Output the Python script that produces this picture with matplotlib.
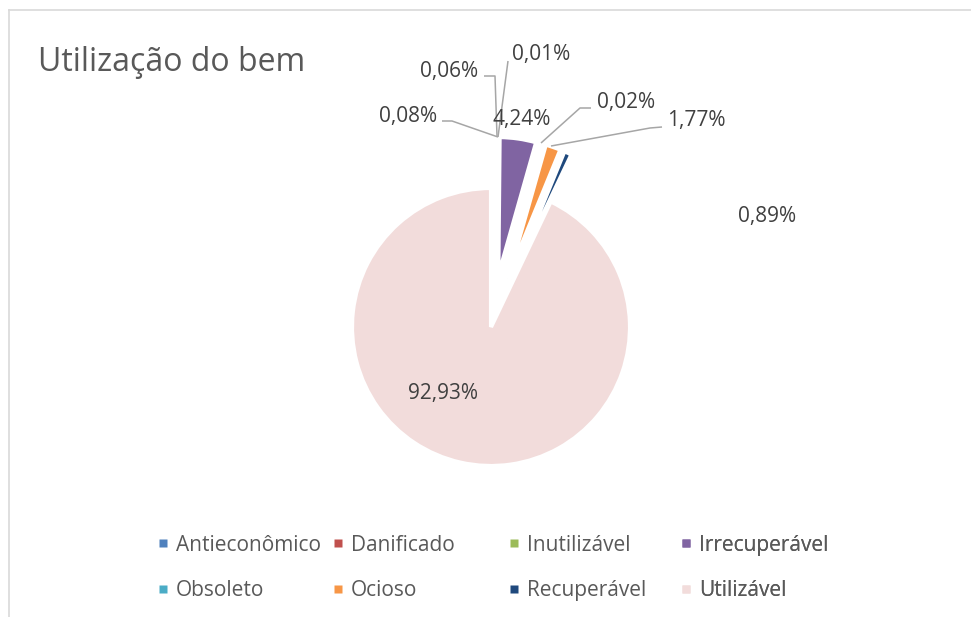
import matplotlib.pyplot as plt
from matplotlib.lines import Line2D

# dados do grafico
categorias = ["Antieconômico", "Danificado", "Inutilizável", "Irrecuperável",
              "Obsoleto", "Ocioso", "Recuperável", "Utilizável"]
percentuais = [0.08, 0.06, 0.01, 4.24, 0.02, 1.77, 0.89, 92.93]
cores = ["#4f81bd", "#c0504d", "#9bbb59", "#8064a2",
         "#4bacc6", "#f79646", "#1f497d", "#f2dcdb"]

W, H = 971, 617
CX, CY, R = 491, 327, 139  # centro e raio da pizza em pixels

plt.rcParams['font.family'] = ['Open Sans', 'DejaVu Sans']


def px(x, y):
    # pixel da imagem -> coordenada de dados (raio da pizza = 1)
    return (x - CX) / R, (CY - y) / R


fig = plt.figure(figsize=(W / 100, H / 100), dpi=100)
ax = fig.add_axes([0, 0, 1, 1])

explode = [0.0 if c == "Utilizável" else 0.37 for c in categorias]
wedges, _ = ax.pie(percentuais, colors=cores, explode=explode, startangle=90,
                   counterclock=False, radius=1,
                   wedgeprops=dict(edgecolor='white', linewidth=3))
ax.set_xlim(-CX / R, (W - CX) / R)
ax.set_ylim((CY - H) / R, CY / R)
ax.set_aspect('auto')
ax.axis('off')

# rotulos (posicao do texto como no Excel, baseline)
pos_rotulos = {
    "Antieconômico": (408, 122),
    "Danificado": (449, 77),
    "Inutilizável": (541, 60),
    "Irrecuperável": (522, 125),
    "Obsoleto": (626, 108),
    "Ocioso": (696, 126),
    "Recuperável": (767, 222),
    "Utilizável": (443, 399),
}
for cat, val in zip(categorias, percentuais):
    x, y = pos_rotulos[cat]
    ax.text(*px(x, y), f"{val:.2f}%".replace('.', ','), ha='center',
            va='baseline', fontsize=15, color='#404040')

# linhas de chamada
linhas = [
    [(442, 121), (452, 121), (498, 137)],
    [(484, 76), (495, 76), (497, 136)],
    [(508, 61), (498, 137)],
    [(541, 143), (580, 108), (591, 108)],
    [(551, 146), (650, 128), (662, 127)],
]
for pts in linhas:
    xs, ys = zip(*[px(a, b) for a, b in pts])
    ax.plot(xs, ys, color='#a6a6a6', lw=1.1, solid_capstyle='butt')

# borda do grafico (cortada a direita e embaixo)
fig.add_artist(Line2D([9 / W, 9 / W], [0, 1 - 10 / H], transform=fig.transFigure,
                      color='#d9d9d9', lw=1.2))
fig.add_artist(Line2D([9 / W, 1], [1 - 10 / H, 1 - 10 / H], transform=fig.transFigure,
                      color='#d9d9d9', lw=1.2))

fig.text(38 / W, 1 - 71 / H, "Utilização do bem", fontsize=23, color='#595959',
         ha='left', va='baseline')

# legenda em 4 colunas de largura igual
col_x = [158, 333, 509, 681]
for i, x in enumerate(col_x):
    idx = [i, i + 4]
    handles = [Line2D([], [], marker='s', linestyle='none', markersize=6,
                      markerfacecolor=cores[j], markeredgecolor='none') for j in idx]
    leg = ax.legend(handles, [categorias[j] for j in idx], loc='center left',
                    bbox_to_anchor=(x / W, 1 - 568 / H), bbox_transform=fig.transFigure,
                    frameon=False, borderpad=0, borderaxespad=0, fontsize=15,
                    labelcolor='#595959', handlelength=0.5,
                    handletextpad=0.35, labelspacing=1.18)
    ax.add_artist(leg)

fig.savefig("out.png", dpi=100)
